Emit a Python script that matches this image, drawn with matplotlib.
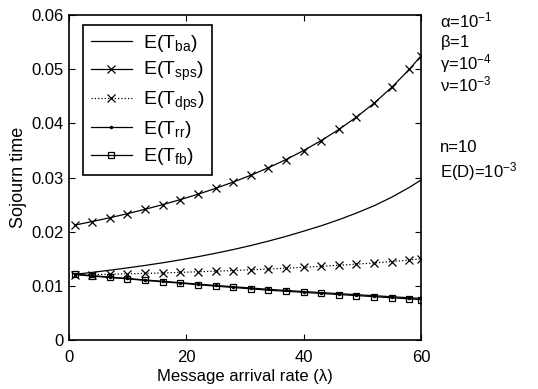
import matplotlib
matplotlib.use("Agg")
import matplotlib.pyplot as plt

plt.rcParams['font.family'] = ['Liberation Sans', 'DejaVu Sans']
plt.rcParams['mathtext.default'] = 'regular'

lam = [1, 4, 7, 10, 13, 16, 19, 22, 25, 28, 31, 34, 37, 40, 43, 46, 49, 52, 55, 58, 60]

t_ba = [0.01212, 0.01249, 0.01289, 0.01332, 0.01377, 0.01426, 0.01480, 0.01538, 0.01602,
        0.01670, 0.01745, 0.01826, 0.01914, 0.02010, 0.02110, 0.02222, 0.02345, 0.02480,
        0.02638, 0.02819, 0.02956]
t_sps = [0.02121, 0.02188, 0.02258, 0.02333, 0.02414, 0.02500, 0.02593, 0.02692, 0.02800,
         0.02917, 0.03043, 0.03182, 0.03333, 0.03500, 0.03684, 0.03889, 0.04118, 0.04375,
         0.04667, 0.05000, 0.05250]
t_dps = [0.01200, 0.01207, 0.01214, 0.01222, 0.01230, 0.01239, 0.01249, 0.01260, 0.01271,
         0.01283, 0.01297, 0.01311, 0.01326, 0.01343, 0.01361, 0.01380, 0.01401, 0.01424,
         0.01449, 0.01476, 0.01500]
t_rr = [0.01215, 0.01188, 0.01162, 0.01136, 0.01109, 0.01084, 0.01059, 0.01033, 0.01008,
        0.00984, 0.00960, 0.00936, 0.00915, 0.00895, 0.00875, 0.00856, 0.00837, 0.00818,
        0.00799, 0.00780, 0.00768]
t_fb = [0.01210, 0.01180, 0.01155, 0.01130, 0.01100, 0.01075, 0.01050, 0.01020, 0.00995,
        0.00970, 0.00945, 0.00920, 0.00900, 0.00880, 0.00860, 0.00840, 0.00820, 0.00800,
        0.00780, 0.00760, 0.00745]

labels = [r'E(T$_{ba}$)', r'E(T$_{sps}$)', r'E(T$_{dps}$)', r'E(T$_{rr}$)', r'E(T$_{fb}$)']
xticks = [0, 20, 40, 60]
yticks = [0, 0.01, 0.02, 0.03, 0.04, 0.05, 0.06]
ytick_labels = ['0', '0.01', '0.02', '0.03', '0.04', '0.05', '0.06']
params = [r'$\alpha$=10$^{-1}$', r'$\beta$=1', r'$\gamma$=10$^{-4}$', r'$\nu$=10$^{-3}$']
params2 = ['n=10', r'E(D)=10$^{-3}$']

fig = plt.figure(figsize=(5.38, 3.89), dpi=100)
ax = fig.add_axes([0.1277, 0.126, 0.655, 0.835])

lw = 0.9
ax.plot(lam, t_ba, '-', color='k', lw=lw, label=labels[0])
ax.plot(lam, t_sps, '-', color='k', lw=lw, marker='x', ms=6, mew=0.9, label=labels[1])
ax.plot(lam, t_dps, ':', color='k', lw=lw, marker='x', ms=6, mew=0.9, label=labels[2])
ax.plot(lam, t_rr, '-', color='k', lw=lw, marker='.', ms=3, label=labels[3])
ax.plot(lam, t_fb, '-', color='k', lw=lw, marker='s', ms=5, mfc='none', mew=0.9, label=labels[4])

ax.set_xlim(0, 60)
ax.set_ylim(0, 0.06)
ax.set_xticks(xticks)
ax.set_xticklabels([str(v) for v in xticks])
ax.set_yticks(yticks)
ax.set_yticklabels(ytick_labels)
ax.tick_params(direction='in', top=True, right=True, length=4, width=0.8, labelsize=12)
ax.tick_params(axis='x', pad=7)
for s in ax.spines.values():
    s.set_linewidth(1.2)

ax.set_xlabel('Message arrival rate (\u03bb)', fontsize=12, labelpad=3)
ax.set_ylabel('Sojourn time', fontsize=13)
ax.yaxis.set_label_coords(-0.118, 0.5)

leg = ax.legend(loc='upper left', bbox_to_anchor=(0.0406, 0.969), borderaxespad=0,
                fontsize=14, frameon=True, fancybox=False, edgecolor='k', framealpha=1,
                handlelength=2.1, handletextpad=0.6, labelspacing=0.32,
                borderpad=0.4)
leg.get_frame().set_linewidth(1.2)

ys = [0.947, 0.892, 0.837, 0.782]
for t, y in zip(params, ys):
    fig.text(0.818, y, t, fontsize=12, va='center', ha='left')
for t, y in zip(params2, [0.62, 0.56]):
    fig.text(0.818, y, t, fontsize=12, va='center', ha='left')

fig.savefig('out.png', dpi=100)
